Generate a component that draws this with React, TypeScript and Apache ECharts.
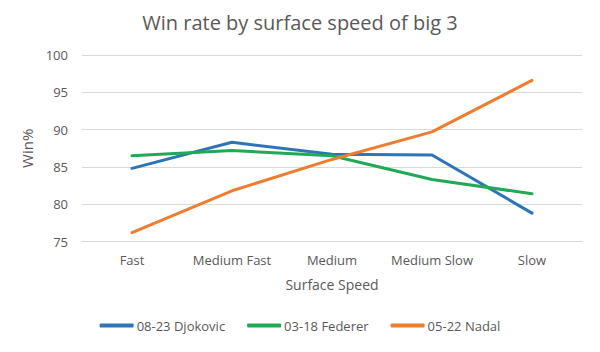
import React, { useEffect, useRef } from "react";
import * as echarts from "echarts";

const categories = ["Fast", "Medium Fast", "Medium", "Medium Slow", "Slow"];
const djokovic = [84.8, 88.3, 86.7, 86.6, 78.8];
const federer = [86.5, 87.2, 86.5, 83.3, 81.4];
const nadal = [76.2, 81.8, 86.0, 89.7, 96.6];
const seriesNames = ["08-23 Djokovic", "03-18 Federer", "05-22 Nadal"];
const colors = ["#2E75B6", "#21A956", "#ED7D31"];

const FONT = "'Open Sans', 'Noto Sans', sans-serif";
const TXT = "#595959";

export default function App() {
  const ref = useRef<HTMLDivElement>(null);
  useEffect(() => {
    if (!ref.current) return;
    const chart = echarts.init(ref.current, undefined, { renderer: "svg" });
    const data = [djokovic, federer, nadal];
    chart.setOption({
      animation: false,
      backgroundColor: "#ffffff",
      title: {
        text: "Win rate by surface speed of big 3",
        left: "center",
        top: 7,
        textStyle: { fontFamily: FONT, fontSize: 20, fontWeight: "normal", color: TXT },
      },
      legend: {
        bottom: 15,
        left: "center",
        itemWidth: 34,
        itemHeight: 4,
        itemGap: 22,
        icon: "roundRect",
        data: seriesNames,
        textStyle: { fontFamily: FONT, fontSize: 13, color: TXT, padding: [0, 0, 0, -2] },
      },
      grid: { left: 82, right: 18, top: 55, bottom: 110.5 },
      xAxis: {
        type: "category",
        data: categories,
        boundaryGap: true,
        name: "Surface Speed",
        nameLocation: "middle",
        nameGap: 36,
        nameTextStyle: { fontFamily: FONT, fontSize: 14, color: TXT },
        axisLine: { show: true, lineStyle: { color: "#d9d9d9" } },
        axisTick: { show: false },
        axisLabel: { fontFamily: FONT, fontSize: 13, color: TXT, margin: 12, interval: 0, hideOverlap: false },
      },
      yAxis: {
        type: "value",
        min: 75,
        max: 100,
        interval: 5,
        name: "Win%",
        nameLocation: "middle",
        nameGap: 42,
        nameRotate: 90,
        nameTextStyle: { fontFamily: FONT, fontSize: 15, color: TXT },
        axisLine: { show: false },
        axisTick: { show: false },
        axisLabel: { fontFamily: FONT, fontSize: 13, color: TXT, margin: 14 },
        splitLine: { lineStyle: { color: "#d9d9d9" } },
      },
      series: seriesNames.map((name, i) => ({
        name,
        type: "line",
        data: data[i],
        symbol: "none",
        color: colors[i],
        lineStyle: { width: 3, color: colors[i], cap: "round" },
      })),
    });
    return () => chart.dispose();
  }, []);
  return <div ref={ref} style={{ width: 600, height: 352, position: "absolute", left: 0, top: 0 }} />;
}
